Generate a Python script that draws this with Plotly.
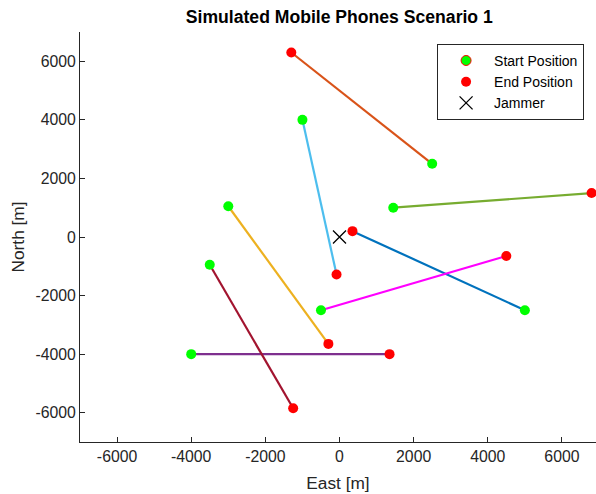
import plotly.graph_objects as go

# Phone trajectories (start -> end), metres
start_east = [5000, 2500, -3000, -4000, 1450, -1000, -3500, -500]
start_north = [-2500, 2500, 1050, -4000, 1000, 4000, -950, -2500]
end_east = [350, -1300, -300, 1350, 6800, -80, -1250, 4500]
end_north = [200, 6300, -3650, -4000, 1500, -1280, -5850, -650]
line_colors = ["#0072BD", "#D95319", "#EDB120", "#7E2F8E", "#77AC30", "#4DBEEE", "#A2142F", "#FF00FF"]

jammer_east = [0]
jammer_north = [0]

x_ticks = [-6000, -4000, -2000, 0, 2000, 4000, 6000]
y_ticks = [-6000, -4000, -2000, 0, 2000, 4000, 6000]

TXT = "#262626"
FONT = "Liberation Sans, Arial, Helvetica, sans-serif"

fig = go.Figure()

for i in range(len(start_east)):
    fig.add_trace(go.Scatter(
        x=[start_east[i], end_east[i]], y=[start_north[i], end_north[i]],
        mode="lines", line=dict(color=line_colors[i], width=2.2),
        showlegend=False, hoverinfo="skip", cliponaxis=False))

fig.add_trace(go.Scatter(
    x=start_east, y=start_north, mode="markers",
    marker=dict(color="#00FF00", size=10, line=dict(width=0)),
    showlegend=False, cliponaxis=False))
fig.add_trace(go.Scatter(
    x=[None], y=[None], mode="markers", name="Start Position",
    marker=dict(color="#00FF00", size=10, line=dict(color="#FF0000", width=1))))
fig.add_trace(go.Scatter(
    x=end_east, y=end_north, mode="markers", name="End Position",
    marker=dict(color="#FF0000", size=10, line=dict(width=0)), cliponaxis=False))
fig.add_trace(go.Scatter(
    x=jammer_east, y=jammer_north, mode="markers", name="Jammer",
    marker=dict(symbol="x-thin", color="black", size=13, line=dict(color="black", width=1.3)),
    cliponaxis=False))

fig.update_layout(
    width=596, height=494,
    margin=dict(l=79.5, r=0, t=32, b=52),
    paper_bgcolor="white", plot_bgcolor="white",
    font=dict(family=FONT, color=TXT, size=15),
    title=dict(text="<b>Simulated Mobile Phones Scenario 1</b>", x=(339.3) / 596, xanchor="center",
               y=1 - 17 / 494, yanchor="middle", font=dict(size=17.6, color="black")),
    legend=dict(x=0.692, y=0.971, xanchor="left", yanchor="top",
                bgcolor="white", bordercolor=TXT, borderwidth=1, itemwidth=46,
                font=dict(size=14, color="black"), tracegroupgap=0),
    showlegend=True,
)

fig.update_xaxes(
    range=[-7000, 6919], tickvals=x_ticks, ticktext=[str(v) for v in x_ticks],
    showgrid=False, zeroline=False, showline=True, linecolor=TXT, linewidth=1,
    ticks="inside", ticklen=5, tickcolor=TXT, tickfont=dict(size=15.8, color=TXT),
    title=dict(text="East [m]", font=dict(size=17.3, color=TXT), standoff=12),
    mirror=False)
fig.update_yaxes(
    range=[-7000, 7000], tickvals=y_ticks, ticktext=[str(v) for v in y_ticks],
    showgrid=False, zeroline=False, showline=True, linecolor=TXT, linewidth=1,
    ticks="inside", ticklen=5, tickcolor=TXT, tickfont=dict(size=15.8, color=TXT),
    title=dict(text="North [m]", font=dict(size=17.3, color=TXT), standoff=6),
    mirror=False)

fig.write_html("out.html", config={"displayModeBar": False},
               post_script="document.body.style.margin='0';document.body.style.overflow='hidden';")
